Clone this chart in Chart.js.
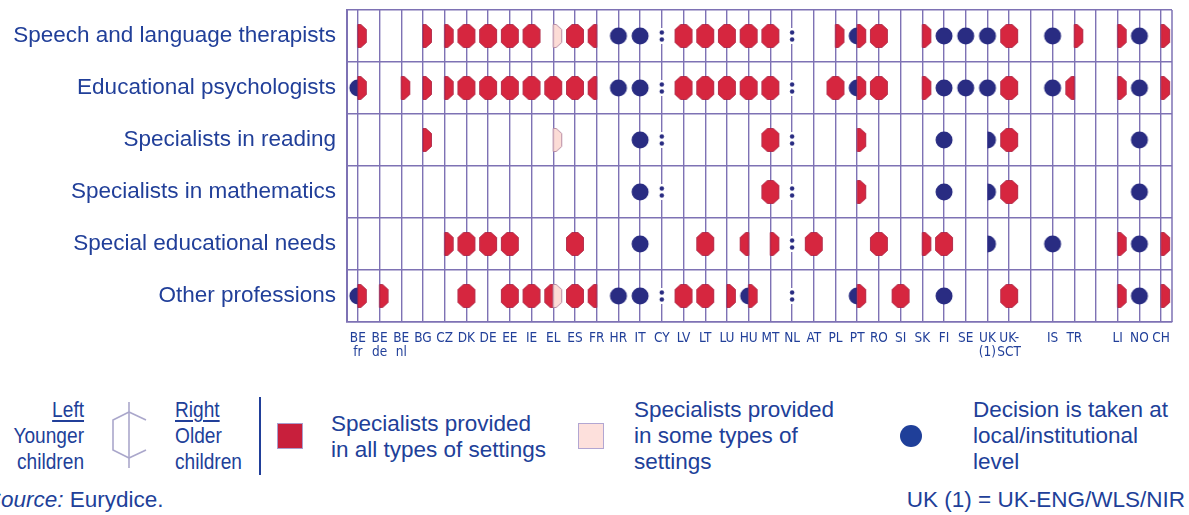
<!DOCTYPE html>
<html>
<head>
<meta charset="utf-8">
<script src="https://cdn.jsdelivr.net/npm/chart.js@4.4.1/dist/chart.umd.min.js"></script>
<style>
body { margin: 0; background: #fff; width: 1189px; height: 515px; overflow: hidden; position: relative;
       font-family: "Liberation Sans", Arial, sans-serif; color: #213f99; }
#wrap { position: absolute; left: 0; top: 0; width: 1189px; height: 370px; }
.lg { position: absolute; font-size: 22.5px; line-height: 26px; white-space: nowrap; }
.nar { transform: scaleX(0.85); }
.nar u { text-decoration-thickness: 2px; text-underline-offset: 3px; }
</style>
</head>
<body>
<div id="wrap"><canvas id="chart"></canvas></div>

<div class="lg nar" style="right:1105px;top:397px;text-align:right;transform-origin:right top;"><u>Left</u><br>Younger<br>children</div>
<svg style="position:absolute;left:112px;top:402px;" width="36" height="66">
  <g fill="none" stroke="#aaa7cb" stroke-width="1.6">
    <line x1="17" y1="0" x2="17" y2="66"/>
    <polyline points="17,10 1,18 1,48 17,56"/>
    <line x1="17" y1="10" x2="34" y2="18"/>
    <line x1="17" y1="56" x2="34" y2="48"/>
  </g>
</svg>
<div class="lg nar" style="left:175px;top:397px;transform-origin:left top;"><u>Right</u><br>Older<br>children</div>
<div style="position:absolute;left:259px;top:397px;width:2px;height:78px;background:#213f99;"></div>

<div style="position:absolute;left:277px;top:423px;width:24px;height:24px;background:#c81f3c;border:1.5px solid #a99dcc;"></div>
<div class="lg" style="left:331px;top:411px;">Specialists provided<br>in all types of settings</div>

<div style="position:absolute;left:578px;top:423px;width:24px;height:24px;background:#fde0dc;border:1.5px solid #b2a6d2;"></div>
<div class="lg" style="left:634px;top:397px;">Specialists provided<br>in some types of<br>settings</div>

<div style="position:absolute;left:900px;top:425px;width:22px;height:22px;border-radius:50%;background:#1f3f99;"></div>
<div class="lg" style="left:973px;top:397px;">Decision is taken at<br>local/institutional<br>level</div>

<div class="lg" style="left:-14px;top:487px;"><i>Source:</i> Eurydice.</div>
<div class="lg" style="right:4px;top:487px;">UK (1) = UK-ENG/WLS/NIR</div>

<script>
// columns (empty strings = gaps between country groups)
var countries = [['BE', 'fr'], ['BE', 'de'], ['BE', 'nl'], 'BG', 'CZ', 'DK', 'DE', 'EE', 'IE', 'EL', 'ES', 'FR',
    'HR', 'IT', 'CY', 'LV', 'LT', 'LU', 'HU', 'MT', 'NL', 'AT', 'PL', 'PT', 'RO', 'SI', 'SK', 'FI', 'SE',
    ['UK', '(1)'], ['UK-', 'SCT'], '', 'IS', 'TR', '', 'LI', 'NO', 'CH'];

var professions = ['Speech and language therapists', 'Educational psychologists', 'Specialists in reading',
    'Specialists in mathematics', 'Special educational needs', 'Other professions'];

// each cell: [younger][older]  R = all settings, P = some settings, B = local decision, . = none, :: = not available
var speech  = ['.R','..','..','.R','.R','RR','RR','RR','RR','.P','RR','R.','BB','BB','::','RR','RR','RR','RR','RR','::','..','.R','BR','RR','..','.R','BB','BB','BB','RR','..','BB','.R','..','.R','BB','.R'];
var psych   = ['BR','..','.R','.R','.R','RR','RR','RR','RR','RR','RR','R.','BB','BB','::','RR','RR','RR','RR','RR','::','..','RR','BR','RR','..','.R','BB','BB','BB','RR','..','BB','R.','..','.R','BB','.R'];
var reading = ['..','..','..','.R','..','..','..','..','..','.P','..','..','..','BB','::','..','..','..','..','RR','::','..','..','.R','..','..','..','BB','..','.B','RR','..','..','..','..','..','BB','..'];
var maths   = ['..','..','..','..','..','..','..','..','..','..','..','..','..','BB','::','..','..','..','..','RR','::','..','..','.R','..','..','..','BB','..','.B','RR','..','..','..','..','..','BB','..'];
var sen     = ['..','..','..','..','.R','RR','RR','RR','..','..','RR','..','..','BB','..','..','RR','..','R.','.R','::','RR','..','..','RR','..','.R','RR','..','.B','..','..','BB','..','..','.R','BB','.R'];
var other   = ['BR','.R','..','..','..','RR','..','RR','RR','RP','RR','R.','BB','BB','::','RR','RR','.R','BR','..','::','..','..','BR','..','RR','..','BB','..','..','RR','..','..','..','..','.R','BB','.R'];

var rowsData = [speech, psych, reading, maths, sen, other];

var RED = '#d6263f', RED_LINE = '#a81d3e';
var PINK = '#fcdcd6', PINK_LINE = '#b98fa6';
var NAVY = '#292c82';
var GRID = '#7e72b4';
var TEXT = '#213f99';

// draw one marker into a small canvas, used as pointStyle
function makeSymbol(kind, side) {
    var c = document.createElement('canvas');
    c.width = 22; c.height = 28;
    var g = c.getContext('2d');
    g.translate(11, 14);
    g.beginPath();
    if (kind === 'colon') {
        g.fillStyle = '#fff';
        g.fillRect(-3, -8, 6, 16);
        g.fillStyle = NAVY;
        g.beginPath(); g.arc(0, -3.5, 2.2, 0, Math.PI * 2); g.fill();
        g.beginPath(); g.arc(0, 3.5, 2.2, 0, Math.PI * 2); g.fill();
        return c;
    }
    if (kind === 'B') {
        var r = 8.5;
        if (side === 'full') g.arc(0, 0, r, 0, Math.PI * 2);
        else if (side === 'right') { g.arc(0, 0, r, -Math.PI / 2, Math.PI / 2); g.closePath(); }
        else { g.arc(0, 0, r, Math.PI / 2, Math.PI * 1.5); g.closePath(); }
        g.fillStyle = NAVY;
        g.fill();
        return c;
    }
    var w = 8.5, h = 11.5, f = 3, s = 6.5;
    var rightPts = [[0, -h], [f, -h], [w, -s], [w, s], [f, h], [0, h]];
    var leftPts = [[0, h], [-f, h], [-w, s], [-w, -s], [-f, -h], [0, -h]];
    var pts = side === 'right' ? rightPts : side === 'left' ? leftPts : rightPts.concat(leftPts);
    g.moveTo(pts[0][0], pts[0][1]);
    for (var i = 1; i < pts.length; i++) g.lineTo(pts[i][0], pts[i][1]);
    g.closePath();
    g.fillStyle = kind === 'R' ? RED : PINK;
    g.fill();
    g.lineWidth = kind === 'R' ? 0.8 : 1;
    g.strokeStyle = kind === 'R' ? RED_LINE : PINK_LINE;
    g.stroke();
    return c;
}

// collect points per marker type
var groups = {};
function addPoint(kind, side, col, row) {
    var key = kind + '_' + side;
    if (!groups[key]) groups[key] = { kind: kind, side: side, pts: [] };
    groups[key].pts.push({ x: col, y: professions[row] });
}

for (var r = 0; r < rowsData.length; r++) {
    for (var c = 0; c < rowsData[r].length; c++) {
        var code = rowsData[r][c];
        if (code === '..') continue;
        if (code === '::') { addPoint('colon', 'full', c, r); continue; }
        var L = code.charAt(0), R = code.charAt(1);
        if (L === R) { addPoint(L, 'full', c, r); continue; }
        if (L !== '.') addPoint(L, 'left', c, r);
        if (R !== '.') addPoint(R, 'right', c, r);
    }
}

var datasets = [];
for (var k in groups) {
    datasets.push({
        label: k,
        data: groups[k].pts,
        pointStyle: makeSymbol(groups[k].kind, groups[k].side),
        pointRadius: 9,
        pointHoverRadius: 9
    });
}

// right edge of the grid
var frame = {
    id: 'frame',
    beforeDatasetsDraw: function(chart) {
        var a = chart.chartArea, ctx = chart.ctx;
        ctx.save();
        ctx.strokeStyle = GRID;
        ctx.lineWidth = 1.5;
        ctx.beginPath();
        ctx.moveTo(a.right, a.top);
        ctx.lineTo(a.right, a.bottom);
        ctx.stroke();
        ctx.restore();
    }
};

new Chart(document.getElementById('chart'), {
    type: 'scatter',
    data: { datasets: datasets },
    plugins: [frame],
    options: {
        responsive: true,
        maintainAspectRatio: false,
        animation: false,
        layout: { padding: { top: 8, right: 17, left: 0, bottom: 0 } },
        plugins: { legend: { display: false }, tooltip: { enabled: false } },
        scales: {
            x: {
                type: 'linear',
                min: -0.5,
                max: 37.5,
                afterBuildTicks: function(axis) {
                    axis.ticks = countries.map(function(c, i) { return { value: i }; });
                },
                afterFit: function(scale) { scale.height = 48; scale.paddingLeft = 0; scale.paddingRight = 0; },
                grid: { color: GRID, lineWidth: 1.4, drawTicks: false },
                border: { color: GRID, width: 1.5 },
                ticks: {
                    autoSkip: false,
                    maxRotation: 0,
                    padding: 9,
                    color: TEXT,
                    font: { family: '"DejaVu Sans Condensed", "Liberation Sans", sans-serif', size: 13.5, lineHeight: 1.05 },
                    callback: function(value) { return countries[Math.round(value)]; }
                }
            },
            y: {
                type: 'category',
                labels: professions,
                offset: true,
                afterFit: function(scale) { scale.width = 347; scale.paddingTop = 0; scale.paddingBottom = 0; },
                grid: { offset: true, color: GRID, lineWidth: 1.5, drawTicks: false },
                border: { color: GRID, width: 2 },
                ticks: {
                    padding: 11,
                    color: TEXT,
                    font: { family: '"Liberation Sans", Arial, sans-serif', size: 22.5 }
                }
            }
        }
    }
});
</script>
</body>
</html>
